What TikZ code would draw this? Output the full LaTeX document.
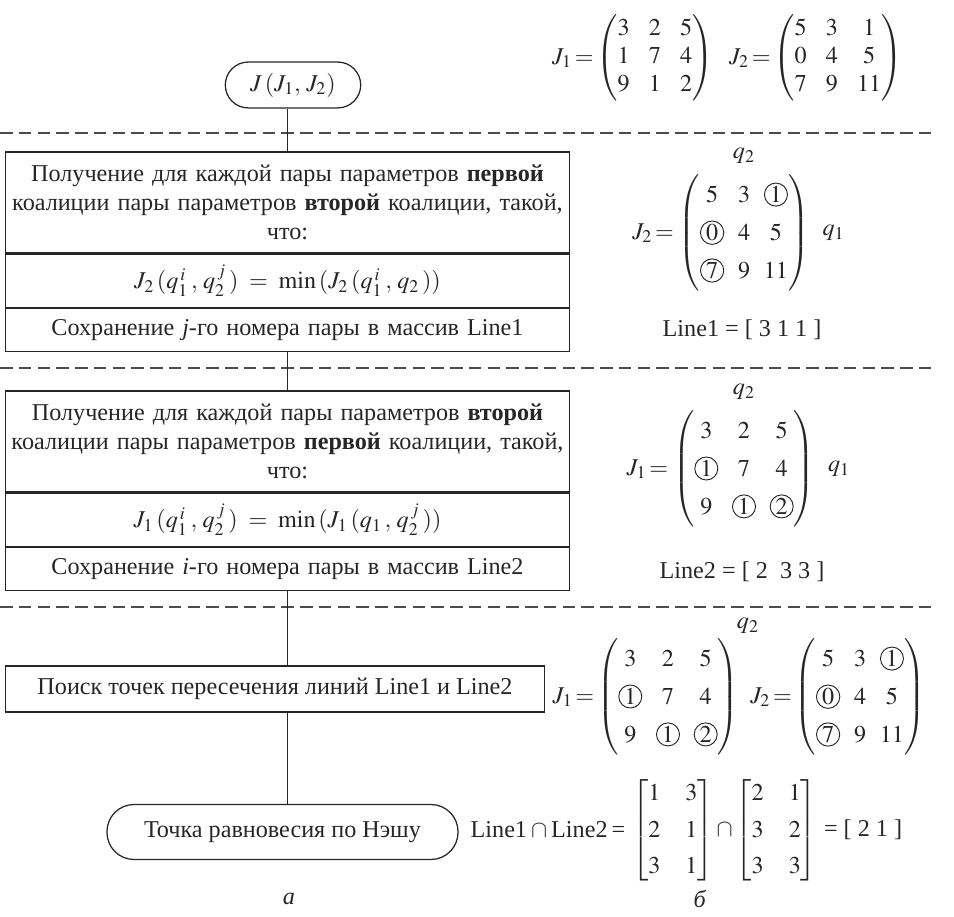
\documentclass[tikz,border=0pt]{standalone}
\usepackage{amsmath}
\usepackage{mathptmx}
\usepackage{fontspec}
\setmainfont{Liberation Serif}
\usetikzlibrary{positioning}

\tikzset{
  block/.style={draw, line width=0.6pt, text width=271pt, inner xsep=0pt, inner ysep=0pt, align=center},
  term/.style={draw, line width=0.6pt, inner sep=0pt, align=center},
  sep/.style={dash pattern=on 6pt off 3pt, line width=0.6pt, black!70},
  link/.style={line width=0.6pt},
  lbl/.style={inner sep=0pt},
}
\newcommand{\cnum}[1]{\tikz[baseline=(c.base)]\node[draw,circle,inner sep=0.5pt,line width=0.45pt](c){$#1$};}
\newcommand{\pmat}[1]{{\arraycolsep=3.3pt\def\arraystretch{1.3}\begin{pmatrix}#1\end{pmatrix}}}
\newcommand{\tmat}[1]{{\arraycolsep=4.6pt\def\arraystretch{0.97}\begin{pmatrix}#1\end{pmatrix}}}
\newcommand{\bmat}[1]{{\arraycolsep=6pt\def\arraystretch{1.25}\begin{bmatrix}#1\end{bmatrix}}}

\begin{document}
\begin{tikzpicture}[x=0.48pt, y=-0.48pt, font=\fontsize{11.6}{14}\selectfont, text=black!85, black!85]
\useasboundingbox (0,0) rectangle (954,917);
% separators
\draw[sep] (0,133) -- (932,133);
\draw[sep] (0,368) -- (932,368);
\draw[sep] (0,607) -- (932,607);

% flowchart
\node[term, rounded corners=11pt, minimum width=65pt, minimum height=22pt] (start) at (293,85) {$J\,(J_1,\,J_2)$};

\node[block, minimum height=48.5pt] (b1a) at (287.5,202.5)
  {Получение для каждой пары параметров \textbf{первой}\\ коалиции пары параметров \textbf{второй} коалиции, такой,\\ что:};
\node[block, minimum height=25.4pt, below=0pt of b1a] (b1b)
  {$J_2\,(q_1^{\,i}\,,\,q_2^{\,j}\,) = \min\,(J_2\,(q_1^{\,i}\,,\,q_2\,))$};
\node[block, minimum height=20.6pt, below=0pt of b1b] (b1c)
  {Сохранение \textit{j}-го номера пары в массив Line1};

\node[block, minimum height=48.5pt] (b2a) at (287.5,441.5)
  {Получение для каждой пары параметров \textbf{второй}\\ коалиции пары параметров \textbf{первой} коалиции, такой,\\ что:};
\node[block, minimum height=25.4pt, below=0pt of b2a] (b2b)
  {$J_1\,(q_1^{\,i}\,,\,q_2^{\,j}\,) = \min\,(J_1\,(q_1\,,\,q_2^{\,j}\,))$};
\node[block, minimum height=20.6pt, below=0pt of b2b] (b2c)
  {Сохранение \textit{i}-го номера пары в массив Line2};

\node[draw, line width=0.6pt, minimum width=259pt, minimum height=22pt, inner sep=0pt] (b3) at (275,689)
  {Поиск точек пересечения линий Line1 и Line2};
\node[term, rounded corners=13pt, minimum width=168.5pt, minimum height=26.4pt] (fin) at (282.5,832)
  {Точка равновесия по Нэшу};

\draw[link] (b1a.north) -- (b1a.north |- start.south);
\draw[link] (b1c) -- (b2a);
\draw[link] (b2c.south) -- (b2c.south |- b3.north);
\draw[link] (b2c.south |- b3.south) -- (b2c.south |- fin.north);

% matrices
\node[lbl] (mJ1) at (655,58) {$\tmat{3&2&5\\1&7&4\\9&1&2}$};
\node[lbl, left=1pt of mJ1] (lJ1) {$J_1\,{=}$};
\node[lbl] (mJ2) at (838,58) {$\tmat{5&3&1\\0&4&5\\7&9&11}$};
\node[lbl, left=1pt of mJ2] (lJ2) {$J_2\,{=}$};

\node[lbl] (m1) at (744,233) {$\pmat{5&3&\cnum{1}\\ \cnum{0}&4&5\\ \cnum{7}&9&11}$};
\node[lbl, left=2pt of m1] (l1) {$J_2\,{=}$};
\node[lbl, right=6pt of m1] (q1a) {$q_1$};
\node[lbl, above=5pt of m1] (q2a) {$q_2$};
\node (line1) at (742,330) {Line1 = [ 3 1 1 ]};

\node[lbl] (m2) at (744,469) {$\pmat{3&2&5\\ \cnum{1}&7&4\\ 9&\cnum{1}&\cnum{2}}$};
\node[lbl, left=2pt of m2] (l2) {$J_1\,{=}$};
\node[lbl, right=6pt of m2] (q1b) {$q_1$};
\node[lbl, above=5pt of m2] (q2b) {$q_2$};
\node (line2) at (742,572) {Line2 = [ 2\ \ 3 3 ]};

\node[lbl] (m3) at (668,697) {$\pmat{3&2&5\\ \cnum{1}&7&4\\ 9&\cnum{1}&\cnum{2}}$};
\node[lbl, left=1pt of m3] (l3) {$J_1\,{=}$};
\node[lbl] (m4) at (860,697) {$\pmat{5&3&\cnum{1}\\ \cnum{0}&4&5\\ \cnum{7}&9&11}$};
\node[lbl, left=1pt of m4] (l4) {$J_2\,{=}$};
\node (q2c) at (748,626) {$q_2$};

\node[lbl] (bm1) at (673,830) {$\bmat{1&3\\2&1\\3&1}$};
\node[lbl, left=3pt of bm1] (cap0) {Line1\,$\cap$\,Line2\,=};
\node[lbl, right=1pt of bm1] (capb) {$\cap$};
\node[lbl, right=1pt of capb] (bm2) {$\bmat{2&1\\3&2\\3&3}$};
\node[lbl, right=3pt of bm2] (res) {= [ 2 1 ]};

\node (la) at (289,899) {\textit{а}};
\node (lb) at (700,899) {\textit{б}};
\end{tikzpicture}
\end{document}
